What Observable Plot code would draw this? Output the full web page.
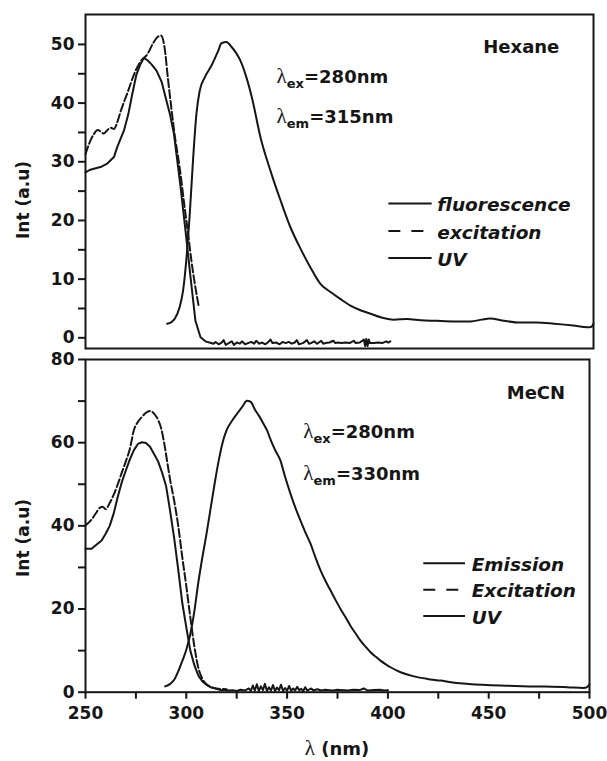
<!DOCTYPE html>
<html><head><meta charset="utf-8">
<script src="https://cdn.jsdelivr.net/npm/d3@7"></script>
<script src="https://cdn.jsdelivr.net/npm/@observablehq/plot@0.6"></script>
<style>
body{margin:0;background:#fff}
#chart{position:relative;width:607px;height:761px;background:#fff}
#chart svg{position:absolute;left:0;overflow:visible}
</style></head><body><div id="chart"></div>
<script>
// ---------- Data (wavelength nm, intensity a.u.) ----------
const xTicks = [250, 300, 350, 400, 450, 500];
const xMinorTicks = [275, 325, 375, 425, 475];
const hexYTicks = [0, 10, 20, 30, 40, 50];
const hexYMinor = [5, 15, 25, 35, 45];
const mecnYTicks = [0, 20, 40, 60, 80];
const mecnYMinor = [10, 30, 50, 70];

// Hexane
const hexFluorescence = [[290.2,2.4],[292.7,2.8],[294,3.3],[296.3,5.2],[298,8.0],[299.6,13.2],[301.3,21.1],[302.9,30.2],[304.6,38.2],[306.2,42.1],[308.7,44.4],[312,46.4],[315.3,48.9],[316.9,50.2],[319.4,50.4],[321.8,49.6],[324,48.6],[326,47.4],[329,44.6],[332,40.8],[336.1,34.2],[341,28.5],[346,23.4],[350.9,18.8],[355.8,15.2],[360.7,12.0],[365.6,9.2],[370.6,7.8],[375.5,6.6],[380.4,5.5],[385.3,4.7],[390.3,4.1],[395.2,3.5],[401.8,3.1],[408.3,3.2],[415,3.0],[422.7,2.9],[431,2.8],[439.5,2.8],[445,3.1],[449,3.3],[456,2.9],[464,2.6],[472,2.6],[480.6,2.4],[490,2.1],[497,1.8],[499,1.9],[500,2.4]];
const hexExcitation = [[250,31.3],[251.6,32.9],[254.1,34.7],[256,35.4],[257.4,35.2],[259,34.8],[260.5,35.3],[262.4,35.8],[264,35.6],[265.5,36.6],[267.4,38.7],[270.7,41.8],[274,45.0],[277.3,47.2],[280.6,48.4],[283.1,50.1],[285.6,51.3],[287.2,51.5],[288.9,49.5],[290.5,44.4],[292.2,39.3],[293.8,34.8],[296.3,29.1],[298.8,22.2],[300.5,17.7],[302.1,13.2],[303.8,9.2],[305.8,5.2]];
const hexUV = [[250,28.2],[252,28.6],[254.1,28.8],[257.4,29.1],[260.7,29.7],[264,30.8],[265.6,32.5],[268.9,35.3],[271,38.0],[273,41.5],[275,44.8],[277,46.6],[278.7,47.7],[280.5,47.3],[282.5,46.6],[285,45.5],[287.5,43.6],[289.4,41.0],[291.5,38.2],[293.5,34.8],[296.8,25.7],[299.2,18.3],[301.7,10.3],[304.1,2.9],[306.6,0.1],[309,-0.6],[311,-0.8],[313,-1.0],[314,-0.7],[315.5,-1.1],[317,-0.8],[318,-0.4],[319,-1.2],[320.5,-0.9],[322,-0.6],[323,-1.2],[324.5,-0.8],[326,-1.0],[327,-0.6],[328.5,-1.1],[330,-0.9],[331.5,-0.7],[333,-1.0],[334,-0.5],[335.5,-1.0],[337,-0.8],[338.5,-1.1],[340,-0.7],[341,-0.3],[342,-0.9],[344,-0.8],[345.5,-1.1],[347,-0.7],[348.5,-0.9],[350,-0.7],[351.5,-1.0],[353,-0.8],[354,-0.4],[355,-1.1],[357,-0.9],[359,-0.4],[360,-1.0],[361,-0.9],[362.5,-0.6],[364,-1.0],[366,-0.5],[367,-1.0],[368,-0.9],[370,-0.8],[372,-0.5],[373,-0.9],[374,-0.8],[376,-0.9],[378,-0.8],[380,-0.9],[382,-0.5],[383,-0.9],[385,-0.8],[387,-0.3],[387.6,-1.4],[388.2,-0.2],[388.8,-1.4],[389.4,-0.3],[390,-0.9],[392,-0.9],[394,-0.8],[396,-0.9],[398,-0.6],[399,-0.8],[400,-0.6]];

// MeCN
const mecnEmission = [[289.5,1.4],[292,2.0],[294,3.0],[296,5.0],[298,7.5],[300,10.2],[302,14.0],[304,19.5],[306,26.5],[308,32.5],[310,38.0],[312,44.0],[314,50.0],[316,55.5],[318,60.0],[320,63.0],[323,65.5],[326,67.5],[328,68.8],[330,70.1],[332,69.8],[334,68.0],[336,66.5],[338,64.8],[340,63.0],[342,60.5],[344,58.3],[346.7,55.7],[349,51.8],[351.7,47.7],[354,44.5],[356.6,41.3],[359,38.5],[361.6,35.7],[364,32.5],[366.6,29.3],[369,26.8],[371.5,24.5],[374,22.2],[376.5,20.0],[379,18.0],[381.4,16.0],[384,14.1],[386.4,12.4],[389,10.9],[391.4,9.6],[394,8.5],[396.3,7.6],[399,6.7],[401.3,6.0],[406.3,4.8],[412.9,3.8],[419.5,3.2],[426,2.8],[433,2.3],[440,2.0],[456,1.6],[472,1.4],[489,1.2],[497,1.0],[499,1.3],[500,1.9]];
const mecnExcitation = [[250,40.1],[253,41.5],[255,42.9],[257,44.3],[258.5,44.6],[260,44.0],[262,45.5],[264,47.5],[266,50.0],[268,52.8],[270,55.5],[272,58.5],[274,63.0],[276,65.0],[278,66.2],[280,67.2],[282,67.6],[284,67.0],[286,65.5],[287.5,63.5],[289,60.0],[290.5,55.5],[292,51.0],[294,46.0],[296,40.0],[298,32.5],[300,25.5],[302,18.0],[304,11.0],[306,5.8],[308,3.2],[310,1.9],[312,1.3],[315,0.9],[320,0.7]];
const mecnUV = [[250,34.5],[253,34.5],[256,35.7],[258,36.5],[260,38.1],[262,40.0],[264,43.0],[266,47.0],[268,50.5],[270,53.3],[272,56.0],[274,58.2],[276,59.7],[278,60.1],[280,59.9],[282,59.0],[284,57.3],[286,55.5],[288,52.8],[290,49.5],[292,43.5],[294,37.0],[296,29.5],[298,21.5],[300,15.6],[302,10.0],[304,6.5],[306,4.0],[308,2.6],[310,1.8],[312,1.2],[315,0.8],[317,0.5],[319,0.6],[321,0.4],[323,0.5],[325,0.3],[327,0.6],[329,0.4],[331,0.9],[332,0.3],[333,1.6],[334,0.4],[335,1.9],[336,0.3],[337,1.4],[338,0.5],[339,2.0],[340,0.3],[341,1.2],[342,0.4],[343,1.7],[344,0.3],[345,1.1],[346,0.5],[347,1.8],[348,0.3],[349,1.0],[350,0.4],[351,1.5],[352,0.3],[353,0.9],[354,0.4],[355,1.3],[356,0.5],[357,0.8],[358,0.3],[359,1.2],[360,0.4],[362,0.9],[363,0.4],[365,0.7],[367,0.4],[369,0.6],[371,0.5],[373,0.4],[375,0.6],[377,0.5],[380,0.4],[383,0.6],[386,0.5],[388,0.9],[390,0.4],[393,0.5],[396,0.6],[398,0.4],[400,0.5]];

// Text
const hexLegend = ["fluorescence", "excitation", "UV"];
const mecnLegend = ["Emission", "Excitation", "UV"];
const yLabel = "Int (a.u)";

// ---------- Drawing ----------
const INK = "#161616";
const FONT = "DejaVu Sans";
const baseStyle = {fontFamily: FONT, fontWeight: "bold", fontSize: "17px", color: INK, background: "transparent", overflow: "visible"};
const lineOpts = (dash, curve = "monotone-x") => ({x: d => d[0], y: d => d[1], stroke: INK, strokeWidth: 2, curve, strokeDasharray: dash});
const fmtEmpty = () => "";
const tickText = {fontSize: 17, fontWeight: "bold", fontFamily: FONT};

const hexPlot = Plot.plot({
  width: 607, height: 360,
  marginTop: 14, marginBottom: 12, marginLeft: 85, marginRight: 14,
  x: {domain: [250, 500]},
  y: {domain: [-1.82, 55.1]},
  style: baseStyle,
  marks: [
    Plot.axisX({ticks: [], label: null}),
    Plot.axisY({ticks: hexYTicks, tickSize: 7, tickPadding: 4, strokeWidth: 2, label: null, ...tickText}),
    Plot.axisY({ticks: hexYMinor, tickSize: 7, tickFormat: fmtEmpty, strokeWidth: 2, label: null}),
    Plot.line(hexUV, lineOpts(null, "linear")),
    Plot.line(hexExcitation, lineOpts("8,3")),
    Plot.line(hexFluorescence, lineOpts(null)),
    Plot.frame({stroke: INK, strokeWidth: 2})
  ]
});

const mecnPlot = Plot.plot({
  width: 607, height: 416,
  marginTop: 14, marginBottom: 69.3, marginLeft: 85, marginRight: 18,
  x: {domain: [250, 500]},
  y: {domain: [0, 80]},
  style: baseStyle,
  marks: [
    Plot.axisX({ticks: xTicks, tickSize: 7, tickPadding: 8, strokeWidth: 2, label: null, ...tickText}),
    Plot.axisX({ticks: xMinorTicks, tickSize: 7, tickFormat: fmtEmpty, strokeWidth: 2, label: null}),
    Plot.axisY({ticks: mecnYTicks, tickSize: 7, tickPadding: 4, strokeWidth: 2, label: null, ...tickText}),
    Plot.axisY({ticks: mecnYMinor, tickSize: 7, tickFormat: fmtEmpty, strokeWidth: 2, label: null}),
    Plot.line(mecnUV, lineOpts(null, "linear")),
    Plot.line(mecnExcitation, lineOpts("8,3")),
    Plot.line(mecnEmission, lineOpts(null)),
    Plot.frame({stroke: INK, strokeWidth: 2})
  ]
});

const chart = document.getElementById("chart");
hexPlot.style.top = "0px";
mecnPlot.style.top = "345px";
chart.appendChild(hexPlot);
chart.appendChild(mecnPlot);

function decorate(plot, o) {
  const sx = plot.scale("x"), sy = plot.scale("y");
  const X = v => sx.apply(v), Y = v => sy.apply(v);
  const g = d3.select(plot).append("g").attr("fill", INK).attr("font-family", FONT)
    .attr("font-weight", "bold").attr("text-anchor", "start");
  // solvent name
  g.append("text").attr("x", X(o.name[1])).attr("y", Y(o.name[2])).attr("font-size", 18).text(o.name[0]);
  // lambda labels
  for (const [sub, rest, xv, yv] of o.lambdas) {
    const t = g.append("text").attr("x", X(xv)).attr("y", Y(yv)).attr("font-size", 18);
    t.append("tspan").attr("font-family", "Liberation Serif").attr("font-weight", "normal").attr("font-size", 21).text("λ");
    t.append("tspan").attr("font-size", 13).attr("dy", 5).text(sub);
    t.append("tspan").attr("dy", -5).text(rest);
  }
  // legend
  const [lx1, lx2, tx] = o.legendX;
  o.legend.forEach((label, i) => {
    const yv = o.legendY[i];
    g.append("line").attr("x1", X(lx1)).attr("x2", X(lx2)).attr("y1", Y(yv)).attr("y2", Y(yv))
      .attr("stroke", INK).attr("stroke-width", 2).attr("stroke-dasharray", i === 1 ? "12,11" : null);
    g.append("text").attr("x", X(tx)).attr("y", Y(yv) + 7.5).attr("font-size", 18.5).attr("font-style", "italic").text(label);
  });
  // y label
  g.append("text").attr("transform", `translate(29,${o.yLabelY}) rotate(-90)`).attr("text-anchor", "middle")
    .attr("font-size", 17).text(yLabel);
}

decorate(hexPlot, {
  name: ["Hexane", 446, 48.4],
  lambdas: [["ex", "=280nm", 344.3, 43.3], ["em", "=315nm", 344.3, 36.5]],
  legend: hexLegend, legendX: [399.3, 420.6, 423.4], legendY: [22.8, 18.1, 13.5],
  yLabelY: 200
});
decorate(mecnPlot, {
  name: ["MeCN", 459.2, 70.5],
  lambdas: [["ex", "=280nm", 358.3, 60.9], ["em", "=330nm", 358.3, 50.9]],
  legend: mecnLegend, legendX: [417.8, 438.5, 441.8], legendY: [30.9, 24.5, 18.2],
  yLabelY: 193
});

// x axis title
{
  const t = d3.select(mecnPlot).append("text").attr("x", 337).attr("y", 410).attr("text-anchor", "middle")
    .attr("fill", INK).attr("font-family", FONT).attr("font-weight", "bold").attr("font-size", 18);
  t.append("tspan").attr("font-family", "Liberation Serif").attr("font-weight", "normal").attr("font-size", 21).text("λ");
  t.append("tspan").text(" (nm)");
}
</script>
</body></html>
